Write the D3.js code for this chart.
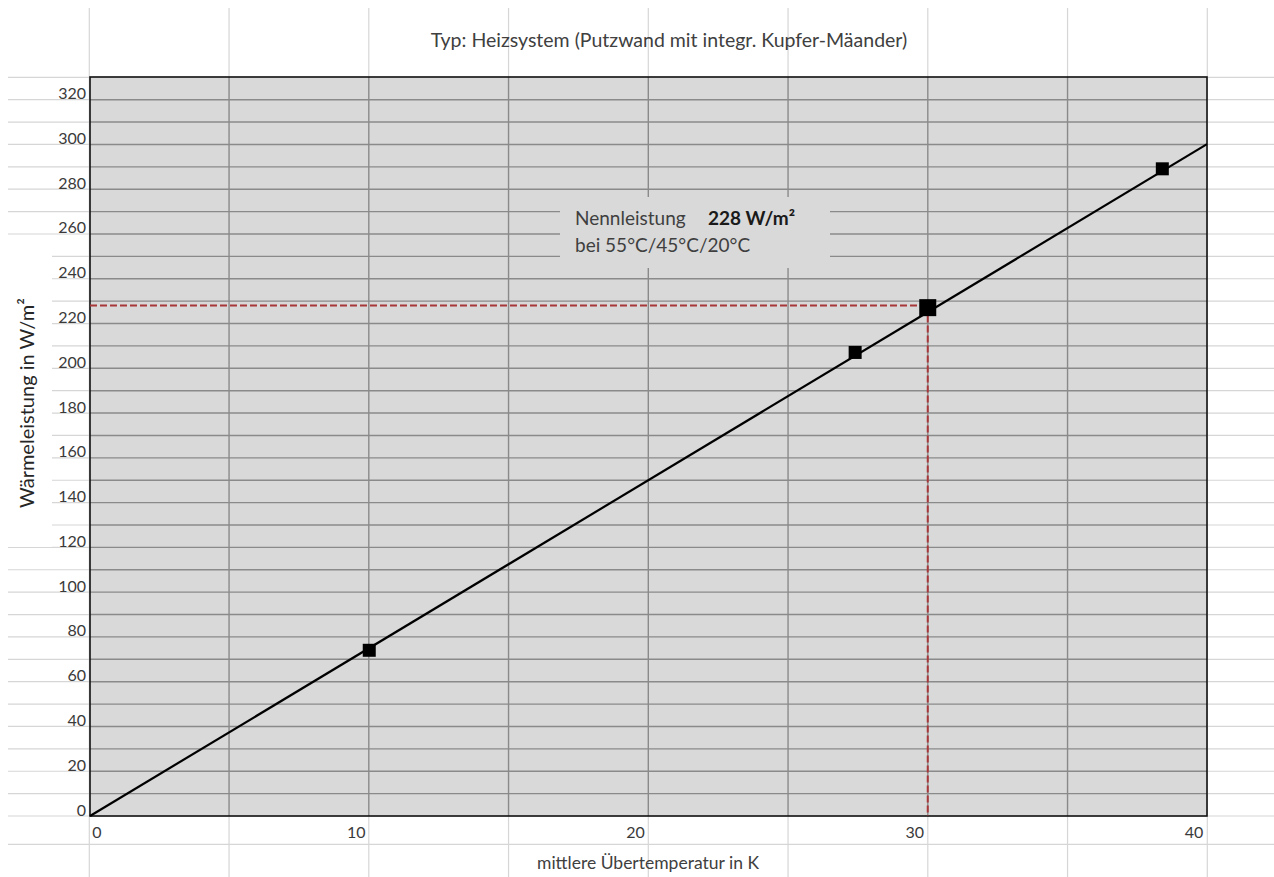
<!DOCTYPE html>
<html>
<head>
<meta charset="utf-8">
<script src="https://cdn.jsdelivr.net/npm/d3@7"></script>
<style>
  html, body { margin: 0; padding: 0; background: #ffffff; }
  svg { display: block; font-family: Lato, "Open Sans", sans-serif; }
</style>
</head>
<body>
<svg id="chart" width="1274" height="877"></svg>
<script>
// ---- data ----
const chartTitle = "Typ: Heizsystem (Putzwand mit integr. Kupfer-Mäander)";
const xTitle = "mittlere Übertemperatur in K";
const yTitle = "Wärmeleistung in W/m²";
const xTicks = [0, 10, 20, 30, 40];
const yTicks = [0, 20, 40, 60, 80, 100, 120, 140, 160, 180, 200, 220, 240, 260, 280, 300, 320];
const pointX = [10, 27.4, 30, 38.4];
const pointY = [74, 207, 227, 289];
const nominalIndex = 2;
const lineX = [0, 40];
const lineY = [0, 300];
const refX = 30;
const refY = 228;
const noteLine1 = "Nennleistung";
const noteValue = "228 W/m²";
const noteLine2 = "bei 55°C/45°C/20°C";

// ---- layout ----
const W = 1274, H = 877;
const plot = { left: 90, right: 1207, top: 77, bottom: 816 };
const svg = d3.select("#chart");

const x = d3.scaleLinear().domain([0, 40]).range([plot.left, plot.right]);
const y = d3.scaleLinear().domain([0, 330]).range([plot.bottom, plot.top]);

// spreadsheet grid (background decoration)
const rowH = (816 - 77.3) / 33;
const rows = d3.range(0, 34).map(k => 77.3 + k * rowH).concat([844.3]);
const cols = d3.range(0, 9).map(k => 89.3 + k * 139.75);

const sheet = svg.append("g");
sheet.selectAll("line.r").data(rows).join("line")
  .attr("x1", 8).attr("x2", W).attr("y1", d => d).attr("y2", d => d)
  .attr("stroke", "#d6d6d6").attr("stroke-width", 1.2);
sheet.selectAll("line.c").data(cols).join("line")
  .attr("x1", d => d).attr("x2", d => d).attr("y1", 8).attr("y2", H)
  .attr("stroke", "#d6d6d6").attr("stroke-width", 1.2);

// plot area fill
svg.append("rect")
  .attr("x", plot.left).attr("y", plot.top)
  .attr("width", plot.right - plot.left).attr("height", plot.bottom - plot.top)
  .attr("fill", "#d9d9d9");

// darker grid inside the plot
const inner = svg.append("g");
inner.selectAll("line.r").data(rows.filter(r => r > plot.top + 1 && r < plot.bottom - 1)).join("line")
  .attr("x1", plot.left).attr("x2", plot.right).attr("y1", d => d).attr("y2", d => d)
  .attr("stroke", "#8a8a8a").attr("stroke-width", 1.4);
inner.selectAll("line.c").data(cols.filter(c => c > plot.left + 1 && c < plot.right - 1)).join("line")
  .attr("x1", d => d).attr("x2", d => d).attr("y1", plot.top).attr("y2", plot.bottom)
  .attr("stroke", "#8a8a8a").attr("stroke-width", 1.4);

// note box (covers grid)
svg.append("rect").attr("x", 560).attr("y", 197).attr("width", 270).attr("height", 71)
  .attr("fill", "#d9d9d9");
const note = svg.append("g").attr("font-size", 19).attr("fill", "#3f3f3f");
note.append("text").attr("x", 575).attr("y", 225).text(noteLine1);
note.append("text").attr("x", 708).attr("y", 225).attr("font-weight", "bold").attr("fill", "#1a1a1a").text(noteValue);
note.append("text").attr("x", 575).attr("y", 252).text(noteLine2);

// plot border
svg.append("rect")
  .attr("x", plot.left).attr("y", plot.top)
  .attr("width", plot.right - plot.left).attr("height", plot.bottom - plot.top)
  .attr("fill", "none").attr("stroke", "#111").attr("stroke-width", 1.6);

// reference dashed lines
svg.append("line")
  .attr("x1", x(0)).attr("x2", x(refX)).attr("y1", y(refY)).attr("y2", y(refY))
  .attr("stroke", "#a8373a").attr("stroke-width", 2).attr("stroke-dasharray", "7,3");
svg.append("line")
  .attr("x1", x(refX)).attr("x2", x(refX)).attr("y1", y(refY)).attr("y2", y(0))
  .attr("stroke", "#a8373a").attr("stroke-width", 2).attr("stroke-dasharray", "7,3");

// fit line
const lineData = lineX.map((v, i) => [v, lineY[i]]);
svg.append("path")
  .datum(lineData)
  .attr("d", d3.line().x(d => x(d[0])).y(d => y(d[1])))
  .attr("fill", "none").attr("stroke", "#000").attr("stroke-width", 2.2);

// markers
const pts = pointX.map((v, i) => ({ x: v, y: pointY[i], s: i === nominalIndex ? 17 : 13 }));
svg.selectAll("rect.pt").data(pts).join("rect")
  .attr("x", d => x(d.x) - d.s / 2).attr("y", d => y(d.y) - d.s / 2)
  .attr("width", d => d.s).attr("height", d => d.s)
  .attr("fill", "#000");

// y axis tick labels
svg.append("g").selectAll("text").data(yTicks).join("text")
  .attr("x", 86).attr("y", d => y(d) - 6).attr("dy", "0.35em")
  .attr("text-anchor", "end").attr("font-size", 16).attr("fill", "#3a3a3a")
  .text(d => d);

// x axis tick labels
svg.append("g").selectAll("text").data(xTicks).join("text")
  .attr("x", d => d === 0 ? x(d) + 7 : x(d) - 13).attr("y", 832).attr("dy", "0.35em")
  .attr("text-anchor", "middle").attr("font-size", 16).attr("fill", "#3a3a3a")
  .text(d => d);

// titles
svg.append("rect").attr("x", 0).attr("y", 245).attr("width", 52).attr("height", 302).attr("fill", "#fff");
svg.append("text")
  .attr("transform", "translate(34,403) rotate(-90)")
  .attr("text-anchor", "middle").attr("font-size", 20).attr("fill", "#262626")
  .text(yTitle);

svg.append("text")
  .attr("x", 648).attr("y", 863).attr("dy", "0.35em")
  .attr("text-anchor", "middle").attr("font-size", 17.5).attr("fill", "#404040")
  .text(xTitle);

svg.append("text")
  .attr("x", 669).attr("y", 40).attr("dy", "0.35em")
  .attr("text-anchor", "middle").attr("font-size", 19.5).attr("fill", "#404040")
  .text(chartTitle);
</script>
</body>
</html>
